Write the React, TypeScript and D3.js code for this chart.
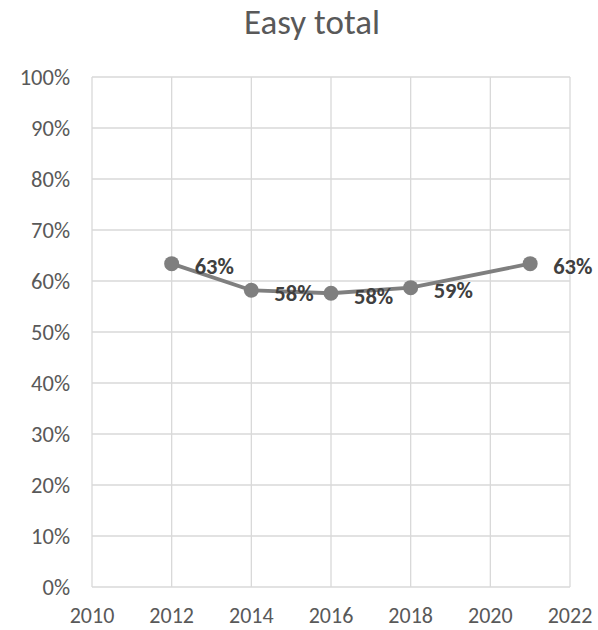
import React from 'react';
import * as d3 from 'd3';

const years = [2012, 2014, 2016, 2018, 2021];
const values = [0.634, 0.582, 0.576, 0.587, 0.634];
const xTicks = [2010, 2012, 2014, 2016, 2018, 2020, 2022];
const yTicks = [0, 0.1, 0.2, 0.3, 0.4, 0.5, 0.6, 0.7, 0.8, 0.9, 1];
const title = 'Easy total';

const App = () => {
  const width = 598, height = 630;
  const margin = { top: 77, right: 28, bottom: 43, left: 92 };
  const innerW = width - margin.left - margin.right;
  const innerH = height - margin.top - margin.bottom;

  const x = d3.scaleLinear().domain([2010, 2022]).range([0, innerW]);
  const y = d3.scaleLinear().domain([0, 1]).range([innerH, 0]);
  const line = d3.line<number>().x((d, i) => x(years[i])).y(d => y(d));
  const fmt = d3.format('.0%');
  const font = "Carlito, 'Open Sans', 'Liberation Sans', sans-serif";

  return (
    <div style={{ position: 'absolute', left: 0, top: 0 }}>
      <svg width={width} height={height} style={{ display: 'block', fontFamily: font }}>
        <rect width={width} height={height} fill="#fff" />
        <text x={312} y={34} textAnchor="middle" fontSize={35} fill="#595959">{title}</text>
        <g transform={`translate(${margin.left},${margin.top})`}>
          {/* grid */}
          {yTicks.map(t => (
            <g key={'y' + t} transform={`translate(0,${y(t)})`}>
              <line x2={innerW} stroke="#d9d9d9" strokeWidth={1.3} />
              <text x={-22} y={7.5} textAnchor="end" fontSize={22.5} fill="#595959">{fmt(t)}</text>
            </g>
          ))}
          {xTicks.map(t => (
            <g key={'x' + t} transform={`translate(${x(t)},0)`}>
              <line y2={innerH} stroke="#d9d9d9" strokeWidth={1.3} />
              <text y={innerH + 36} textAnchor="middle" fontSize={22} fill="#595959">{t}</text>
            </g>
          ))}
          {/* series */}
          <path d={line(values) || ''} fill="none" stroke="#7f7f7f" strokeWidth={3.8} strokeLinejoin="round" />
          {values.map((v, i) => (
            <circle key={'c' + i} cx={x(years[i])} cy={y(v)} r={7.5} fill="#7f7f7f" />
          ))}
          {values.map((v, i) => (
            <text key={'l' + i} x={x(years[i]) + 23} y={y(v) + 10.5} fontSize={22.5} fontWeight="bold" fill="#404040">
              {fmt(v)}
            </text>
          ))}
        </g>
      </svg>
    </div>
  );
};

export default App;
